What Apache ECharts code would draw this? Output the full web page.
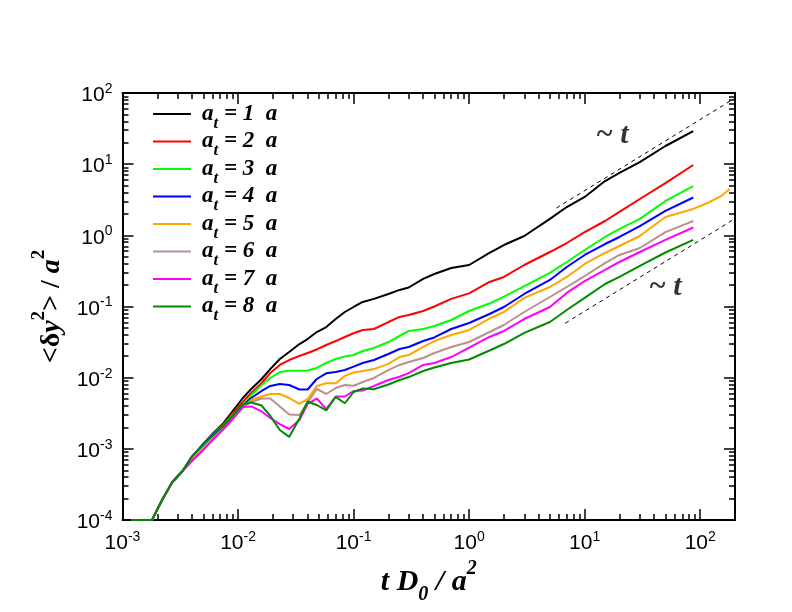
<!DOCTYPE html>
<html>
<head>
<meta charset="utf-8">
<script src="https://cdn.jsdelivr.net/npm/echarts@6/dist/echarts.min.js"></script>
<style>
  html, body { margin: 0; background: #fff; }
  #chart { width: 792px; height: 612px; }
</style>
</head>
<body>
<div id="chart"></div>
<script>
// time grid t D0 / a^2
const times = [0.0012, 0.0018, 0.0022, 0.0027, 0.0033, 0.004, 0.005, 0.006, 0.0075, 0.009,
  0.011, 0.013, 0.016, 0.019, 0.023, 0.0277, 0.034, 0.040, 0.048, 0.058, 0.070, 0.084,
  0.1, 0.12, 0.15, 0.2, 0.25, 0.3, 0.4, 0.5, 0.7, 1, 1.5, 2, 3, 5, 7, 10, 15, 20, 30, 50, 87];

// <dy^2>/a^2 for each a_t
const msd1 = [1.0e-4, 1.0e-4, 1.91e-4, 3.42e-4, 4.84e-4, 7.76e-4, 1.17e-3, 1.62e-3, 2.31e-3, 3.40e-3,
  5.18e-3, 6.93e-3, 9.58e-3, 0.0132, 0.0183, 0.0230, 0.0297, 0.0349, 0.0438, 0.0515, 0.0667, 0.0837,
  0.0984, 0.116, 0.128, 0.150, 0.171, 0.185, 0.244, 0.286, 0.348, 0.383, 0.565, 0.731, 0.979, 1.70,
  2.50, 3.46, 5.80, 7.52, 10.7, 18.0, 29.2];
const msd2 = [1.0e-4, 1.0e-4, 1.91e-4, 3.42e-4, 4.84e-4, 7.76e-4, 1.17e-3, 1.59e-3, 2.23e-3, 3.19e-3,
  4.55e-3, 6.09e-3, 8.41e-3, 0.0116, 0.0151, 0.0177, 0.0202, 0.0222, 0.0249, 0.0288, 0.0327, 0.0373,
  0.0421, 0.0468, 0.0483, 0.0605, 0.0713, 0.0760, 0.0865, 0.100, 0.128, 0.153, 0.221, 0.260, 0.383,
  0.583, 0.780, 1.11, 1.59, 2.13, 3.24, 5.43, 9.73];
const msd3 = [1.0e-4, 1.0e-4, 1.91e-4, 3.42e-4, 4.84e-4, 7.76e-4, 1.13e-3, 1.57e-3, 2.16e-3, 2.99e-3,
  4.00e-3, 5.71e-3, 7.89e-3, 9.90e-3, 0.0120, 0.0125, 0.0125, 0.0126, 0.0137, 0.0161, 0.0183, 0.0199,
  0.0208, 0.0237, 0.0261, 0.0317, 0.0385, 0.0453, 0.0483, 0.0532, 0.0646, 0.0865, 0.110, 0.138, 0.194,
  0.296, 0.422, 0.622, 0.948, 1.23, 1.70, 3.04, 4.93];
const msd4 = [1.0e-4, 1.0e-4, 1.91e-4, 3.42e-4, 4.84e-4, 7.76e-4, 1.13e-3, 1.54e-3, 2.13e-3, 2.90e-3,
  4.00e-3, 5.18e-3, 6.50e-3, 7.64e-3, 8.15e-3, 7.89e-3, 6.82e-3, 6.82e-3, 9.58e-3, 0.0115, 0.0120, 0.0128,
  0.0143, 0.0161, 0.0177, 0.0215, 0.0253, 0.0270, 0.0327, 0.0367, 0.0483, 0.0586, 0.0785, 0.0984, 0.150,
  0.236, 0.359, 0.530, 0.755, 0.948, 1.35, 2.20, 3.40];
const msd5 = [1.0e-4, 1.0e-4, 1.91e-4, 3.42e-4, 4.84e-4, 7.43e-4, 1.10e-3, 1.47e-3, 2.09e-3, 2.81e-3,
  3.87e-3, 4.85e-3, 5.44e-3, 5.90e-3, 5.90e-3, 5.18e-3, 4.27e-3, 5.01e-3, 7.64e-3, 8.34e-3, 8.34e-3, 0.0106,
  0.0118, 0.0124, 0.0132, 0.0156, 0.0195, 0.0208, 0.0270, 0.0327, 0.0398, 0.0468, 0.0678, 0.0837, 0.132,
  0.188, 0.260, 0.396, 0.565, 0.708, 0.979, 1.81, 2.35];
const orangeTailTimes = [114, 149, 180];
const orangeTail = [2.82, 3.49, 4.48];
const msd6 = [1.0e-4, 1.0e-4, 1.91e-4, 3.42e-4, 4.84e-4, 6.97e-4, 9.95e-4, 1.33e-3, 1.90e-3, 2.63e-3,
  3.87e-3, 4.55e-3, 5.09e-3, 5.09e-3, 3.94e-3, 3.04e-3, 2.99e-3, 4.48e-3, 6.93e-3, 5.90e-3, 7.16e-3, 7.89e-3,
  7.71e-3, 8.69e-3, 9.90e-3, 0.0128, 0.0151, 0.0166, 0.0189, 0.0222, 0.0270, 0.0317, 0.0438, 0.0550, 0.0837,
  0.136, 0.188, 0.268, 0.408, 0.530, 0.664, 1.11, 1.59];
const msd7 = [1.0e-4, 1.0e-4, 1.91e-4, 3.42e-4, 4.84e-4, 6.75e-4, 9.64e-4, 1.33e-3, 1.90e-3, 2.63e-3,
  3.87e-3, 3.94e-3, 3.35e-3, 2.71e-3, 2.23e-3, 1.90e-3, 2.54e-3, 4.27e-3, 5.09e-3, 3.63e-3, 5.44e-3, 5.44e-3,
  6.50e-3, 6.61e-3, 7.64e-3, 9.27e-3, 0.0103, 0.0116, 0.0151, 0.0161, 0.0195, 0.0265, 0.0373, 0.0453, 0.0667,
  0.0984, 0.155, 0.228, 0.326, 0.422, 0.583, 0.861, 1.29];
const msd8 = [1.0e-4, 1.0e-4, 1.91e-4, 3.42e-4, 4.84e-4, 7.76e-4, 1.13e-3, 1.52e-3, 2.10e-3, 2.90e-3,
  4.20e-3, 4.48e-3, 4.06e-3, 2.90e-3, 1.84e-3, 1.47e-3, 2.67e-3, 4.62e-3, 4.13e-3, 3.46e-3, 5.36e-3, 4.37e-3,
  6.29e-3, 7.05e-3, 6.87e-3, 8.02e-3, 9.27e-3, 0.0102, 0.0124, 0.0139, 0.0161, 0.0180, 0.0241, 0.0297, 0.0425,
  0.0605, 0.0893, 0.132, 0.207, 0.260, 0.371, 0.574, 0.861];

const atValues = [1, 2, 3, 4, 5, 6, 7, 8];
const colors = ['#000000', '#ff0000', '#00ff00', '#0000ff', '#ffa500', '#bc8f8f', '#ff00ff', '#008b00'];

// ~t guide lines and their labels
const guideUpperT = [5.7, 198], guideUpperV = [2.42, 84];
const guideLowerT = [6.8, 198], guideLowerV = [0.0583, 1.70];
const noteT = [17.3, 49.8], noteV = [25.7, 0.188], noteText = ['~ t', '~ t'];

// decade exponents for tick labels
const xExponents = [-3, -2, -1, 0, 1, 2];
const yExponents = [-4, -3, -2, -1, 0, 1, 2];

const lg = Math.log10;
const toPoints = (ts, vs) => ts.map((t, i) => [lg(t), lg(vs[i])]);

const xMin = -3, xMax = lg(200), yMin = -4, yMax = 2;

function minorTicks(lo, hi) {
  const out = [];
  for (let d = Math.floor(lo); d < hi; d++) {
    for (let k = 2; k < 10; k++) {
      const v = d + lg(k);
      if (v > lo && v < hi - 1e-6) out.push(v);
    }
  }
  return out;
}

const tickRich = {
  b: { fontFamily: 'Liberation Sans', fontSize: 21, lineHeight: 22, padding: [5, 0, 0, 0], color: '#000' },
  s: { fontFamily: 'Liberation Sans', fontSize: 14, lineHeight: 14, verticalAlign: 'top', color: '#000' }
};
const powLabel = v => '{b|10}{s|' + Math.round(v) + '}';

function axes(pos, min, max, majors, labels, extra) {
  const major = Object.assign({
    type: 'value', position: pos, min: min, max: max,
    splitLine: { show: false },
    axisLine: { show: true, onZero: false, lineStyle: { color: '#000', width: 2 } },
    axisTick: { show: true, inside: true, length: 11, customValues: majors, lineStyle: { color: '#000', width: 1.5 } },
    axisLabel: labels
      ? { show: true, customValues: majors, formatter: powLabel, rich: tickRich, margin: 10 }
      : { show: false }
  }, extra || {});
  const minor = {
    type: 'value', position: pos, min: min, max: max,
    splitLine: { show: false },
    axisLine: { show: false, onZero: false },
    axisTick: { show: true, inside: true, length: 6, customValues: minorTicks(min, max), lineStyle: { color: '#000', width: 1.5 } },
    axisLabel: { show: false }
  };
  return [major, minor];
}

const serif = { fontFamily: 'Liberation Serif', fontWeight: 'bold', color: '#000' };

const xName = {
  name: '{i|t D}{sub|0}{i| / a}{sup|2}',
  nameLocation: 'middle', nameGap: 37,
  nameTextStyle: {
    rich: {
      i: Object.assign({ fontStyle: 'italic', fontSize: 30, lineHeight: 46 }, serif),
      sup: Object.assign({ fontStyle: 'italic', fontSize: 20, lineHeight: 20, verticalAlign: 'top' }, serif),
      sub: Object.assign({ fontStyle: 'italic', fontSize: 20, lineHeight: 20, verticalAlign: 'bottom' }, serif)
    }
  }
};
const yName = {
  name: '{n|<δ}{i|y}{sup|2}{n|> / }{i|a}{sup|2}',
  nameLocation: 'middle', nameGap: 44,
  nameTextStyle: {
    rich: {
      n: Object.assign({ fontSize: 28, lineHeight: 44 }, serif),
      i: Object.assign({ fontStyle: 'italic', fontSize: 28, lineHeight: 44 }, serif),
      sup: Object.assign({ fontSize: 19, lineHeight: 19, verticalAlign: 'top' }, serif)
    }
  }
};

const names = atValues.map(n => 'at = ' + n + ' a');
const msdSets = [msd1, msd2, msd3, msd4, msd5, msd6, msd7, msd8];

const curveSeries = msdSets.map((vals, i) => {
  let pts = toPoints(times, vals);
  if (i === 4) pts = pts.concat(toPoints(orangeTailTimes, orangeTail));
  return {
    name: names[i], type: 'line', data: pts,
    symbol: 'none', showSymbol: false, animation: false,
    lineStyle: { color: colors[i], width: 2 }, itemStyle: { color: colors[i] }
  };
});

const guideStyle = { color: '#000', width: 1, type: [4, 4] };
const guideSeries = [
  { type: 'line', data: toPoints(guideUpperT, guideUpperV), symbol: 'none', lineStyle: guideStyle, silent: true, animation: false },
  { type: 'line', data: toPoints(guideLowerT, guideLowerV), symbol: 'none', lineStyle: guideStyle, silent: true, animation: false }
];
const noteSeries = {
  type: 'scatter', silent: true, animation: false, symbolSize: 1,
  itemStyle: { color: 'rgba(0,0,0,0)' },
  data: noteT.map((t, i) => ({ value: [lg(t), lg(noteV[i])], name: noteText[i] })),
  label: Object.assign({ show: true, position: 'inside', formatter: '{b}', fontStyle: 'italic', fontSize: 30 }, serif)
};

const chart = echarts.init(document.getElementById('chart'));
chart.setOption({
  backgroundColor: '#fff',
  animation: false,
  grid: { left: 122.5, right: 57, top: 93, bottom: 92 },
  xAxis: axes('bottom', xMin, xMax, xExponents, true, xName).concat(axes('top', xMin, xMax, xExponents, false)),
  yAxis: axes('left', yMin, yMax, yExponents, true, yName).concat(axes('right', yMin, yMax, yExponents, false)),
  legend: {
    data: names, orient: 'vertical', left: 148, top: 97.5,
    icon: 'rect', itemWidth: 38, itemHeight: 2, itemGap: -2,
    formatter: name => '{g| }{i|a}{t|t}{i| = ' + name.split(' ')[2] + '  a}',
    textStyle: {
      rich: {
        g: { width: 6 },
        i: Object.assign({ fontStyle: 'italic', fontSize: 23, lineHeight: 36 }, serif),
        t: Object.assign({ fontStyle: 'italic', fontSize: 17, lineHeight: 17, verticalAlign: 'bottom' }, serif)
      }
    }
  },
  series: guideSeries.concat(curveSeries, [noteSeries])
});
</script>
</body>
</html>
